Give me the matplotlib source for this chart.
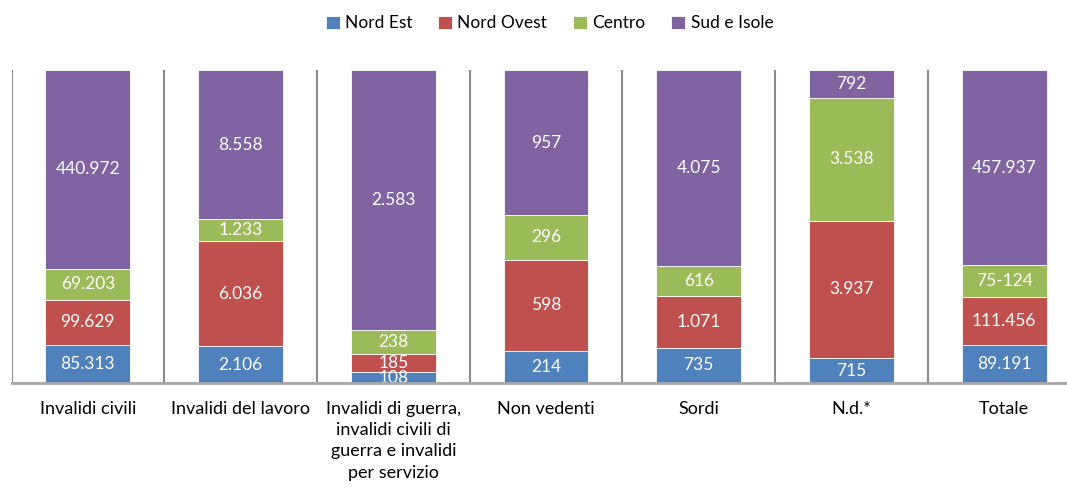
import numpy as np
import matplotlib.pyplot as plt


categories = ["Invalidi civili", "Invalidi del lavoro",
              "Invalidi di guerra,\ninvalidi civili di\nguerra e invalidi\nper servizio",
              "Non vedenti", "Sordi", "N.d.*", "Totale"]
series_names = ["Nord Est", "Nord Ovest", "Centro", "Sud e Isole"]
nord_est = [85313, 2106, 108, 214, 735, 715, 89191]
nord_ovest = [99629, 6036, 185, 598, 1071, 3937, 111456]
centro = [69203, 1233, 238, 296, 616, 3538, 75124]
sud_isole = [440972, 8558, 2583, 957, 4075, 792, 457937]
# label text differs from the value in one place (as printed in the source)
label_overrides = {(2, 6): "75-124"}

colors = ["#4F81BD", "#C0504D", "#9BBB59", "#8064A2"]


def fmt(v):
    return f"{v:,}".replace(",", ".")


def main():
    plt.rcParams["font.family"] = ["Lato", "DejaVu Sans"]
    fig = plt.figure(figsize=(10.67, 4.88), dpi=100)
    # axes run past the right edge, like the cropped original
    ax = fig.add_axes([11.5 / 1067, 105 / 488, 1069 / 1067, 313 / 488])

    data = np.array([nord_est, nord_ovest, centro, sud_isole], dtype=float)
    totals = data.sum(axis=0)
    shares = data / totals
    x = np.arange(len(categories))

    bottom = np.zeros(len(categories))
    for i, name in enumerate(series_names):
        bars = ax.bar(x, shares[i], 0.555, bottom=bottom, color=colors[i],
                      edgecolor="white", linewidth=0.6, label=name, zorder=3)
        for j, b in enumerate(bars):
            txt = label_overrides.get((i, j), fmt(int(data[i, j])))
            ax.text(x[j], bottom[j] + shares[i, j] / 2, txt, ha="center",
                    va="center", color="white", fontsize=12.5, zorder=4)
        bottom += shares[i]

    ax.set_xlim(-0.5, len(categories) - 0.5)
    ax.set_ylim(0, 1)
    # vertical separators between categories
    for s in np.arange(-0.5, len(categories), 1.0):
        ax.axvline(s, color="#8c8c8c", lw=1.5, zorder=1)

    for side in ["top", "right", "left"]:
        ax.spines[side].set_visible(False)
    ax.spines["bottom"].set_color("#a6a6a6")
    ax.spines["bottom"].set_linewidth(2)
    ax.spines["bottom"].set_zorder(5)
    ax.set_yticks([])
    ax.set_xticks(x)
    ax.set_xticklabels(categories, fontsize=13, linespacing=1.4, va="top")
    ax.tick_params(axis="x", length=0, pad=13)

    fig.legend(loc="center", bbox_to_anchor=(0.515, 0.952), ncol=4,
               frameon=False, fontsize=12.5, handlelength=0.8, handleheight=0.8,
               handletextpad=0.3, columnspacing=1.5)

    plt.savefig("out.png", dpi=100)


if __name__ == "__main__":
    main()
